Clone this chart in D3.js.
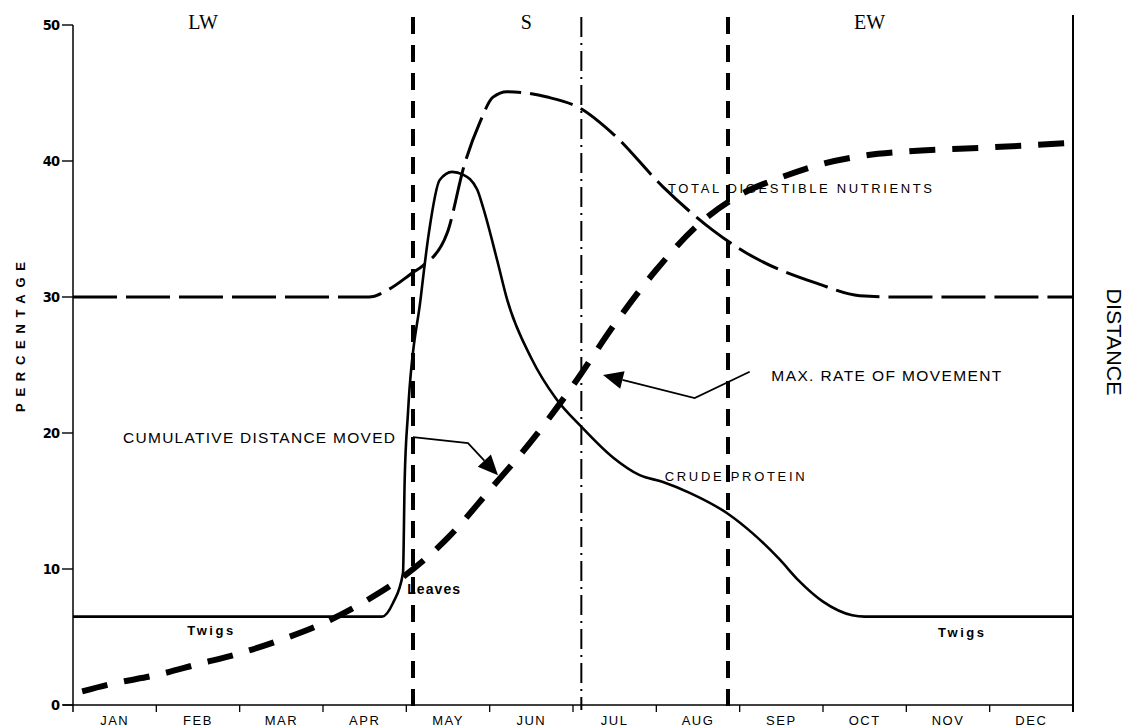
<!DOCTYPE html>
<html>
<head>
<meta charset="utf-8">
<script src="https://cdn.jsdelivr.net/npm/d3@7"></script>
<style>
  html, body { margin: 0; padding: 0; background: #fff; }
  svg { display: block; }
</style>
</head>
<body>
<div id="chart"></div>
<script>
// Seasonal forage quality vs. cumulative distance moved
const months = ["JAN", "FEB", "MAR", "APR", "MAY", "JUN", "JUL", "AUG", "SEP", "OCT", "NOV", "DEC"];
const percentTicks = [0, 10, 20, 30, 40, 50];

const seasonNames = ["LW", "S", "EW"];
const seasonCentres = [1.56, 5.44, 9.56];   // month position of each season label
const seasonBreaks = [4.08, 7.86];          // dashed season boundaries (month)
const maxRateMonth = 6.10;                  // dash-dot line

// total digestible nutrients (%)
const tdnMonth = [0, 3.55, 3.8, 4.08, 4.2, 4.49, 4.70, 4.88, 5.04, 5.21, 5.69, 6.08, 6.48, 7.08, 7.68, 8.09, 8.24, 8.93, 9.44, 9.9, 12];
const tdnValue = [30, 30, 30.6, 31.8, 32.3, 34.7, 39.8, 42.8, 44.7, 45.1, 44.7, 43.9, 42.0, 38.1, 34.9, 33.2, 32.7, 31.0, 30.1, 30, 30];

// crude protein (%)
const proteinMonth = [0, 3.71, 3.84, 3.96, 3.98, 4.02, 4.17, 4.27, 4.40, 4.55, 4.68, 4.85, 4.92, 5.09, 5.21, 5.5, 5.8, 6.11, 6.48, 6.80, 7.08, 7.40, 7.85, 8.16, 8.48, 8.70, 9.0, 9.35, 9.5, 12];
const proteinValue = [6.5, 6.5, 7.5, 9.7, 16.5, 21.5, 29.8, 34.7, 38.6, 39.2, 39.0, 37.9, 36.6, 32.7, 29.8, 25.5, 22.5, 20.4, 18.2, 16.9, 16.4, 15.6, 14.1, 12.6, 10.7, 9.2, 7.6, 6.6, 6.5, 6.5];

// cumulative distance moved (plotted on the percentage scale)
const distMonth = [0.11, 0.5, 1, 1.5, 2, 2.5, 3, 3.5, 4, 4.5, 5, 5.5, 6, 6.5, 7, 7.5, 8, 8.5, 9, 9.5, 10, 11, 11.9];
const distValue = [1.0, 1.6, 2.2, 3.0, 3.8, 4.8, 6.0, 7.6, 9.6, 12.3, 15.8, 19.4, 23.5, 28.0, 32.0, 35.3, 37.5, 38.8, 39.8, 40.4, 40.7, 41.0, 41.3];

const width = 1128, height = 728;
const x = d3.scaleLinear().domain([0, 12]).range([73, 1073]);
const y = d3.scaleLinear().domain([0, 50]).range([705, 25]);
const sans = "'Liberation Sans', Arial, sans-serif";

const svg = d3.select("#chart").append("svg")
    .attr("width", width)
    .attr("height", height)
    .style("background", "#fff");

const line = d3.line()
    .x(d => x(d[0]))
    .y(d => y(d[1]))
    .curve(d3.curveMonotoneX);

// axes frame
const frame = svg.append("g").attr("stroke", "#000").attr("fill", "none");
frame.append("line")
    .attr("x1", x(0)).attr("x2", x(0))
    .attr("y1", y(50)).attr("y2", y(0) + 7)
    .attr("stroke-width", 1.5);
frame.append("line")
    .attr("x1", x(0) - 10).attr("x2", x(12))
    .attr("y1", y(0)).attr("y2", y(0))
    .attr("stroke-width", 1.6);
frame.append("line")
    .attr("x1", x(12)).attr("x2", x(12))
    .attr("y1", 15).attr("y2", y(0) + 7)
    .attr("stroke-width", 2);

// left ticks
const yAxis = svg.append("g");
yAxis.selectAll("line")
    .data(percentTicks)
    .join("line")
    .attr("x1", x(0) - 11).attr("x2", x(0))
    .attr("y1", d => y(d)).attr("y2", d => y(d))
    .attr("stroke", "#000")
    .attr("stroke-width", 1.4);
yAxis.selectAll("text")
    .data(percentTicks)
    .join("text")
    .attr("x", x(0) - 14)
    .attr("y", d => y(d) + 5)
    .attr("text-anchor", "end")
    .style("font-family", `'DejaVu Sans Condensed', ${sans}`)
    .style("font-weight", "bold")
    .style("font-size", "14.5px")
    .style("letter-spacing", "-1px")
    .text(d => d);

// month ticks and labels
const xAxis = svg.append("g");
xAxis.selectAll("line")
    .data(d3.range(1, 13))
    .join("line")
    .attr("x1", d => x(d)).attr("x2", d => x(d))
    .attr("y1", y(0)).attr("y2", y(0) + 7)
    .attr("stroke", "#000")
    .attr("stroke-width", 1.3);
xAxis.selectAll("text")
    .data(months)
    .join("text")
    .attr("x", (d, i) => x(i + 0.5))
    .attr("y", y(0) + 20)
    .attr("text-anchor", "middle")
    .style("font-family", sans)
    .style("font-size", "13px")
    .style("letter-spacing", "1.5px")
    .text(d => d);

// axis titles
svg.append("text")
    .attr("transform", `translate(25,337) rotate(-90)`)
    .attr("text-anchor", "middle")
    .attr("textLength", 150)
    .attr("lengthAdjust", "spacing")
    .style("font-family", sans)
    .style("font-weight", "bold")
    .style("font-size", "13px")
    .text("PERCENTAGE");
svg.append("text")
    .attr("transform", `translate(1107,342) rotate(90)`)
    .attr("text-anchor", "middle")
    .attr("textLength", 107)
    .attr("lengthAdjust", "spacingAndGlyphs")
    .style("font-family", sans)
    .style("font-size", "20px")
    .text("DISTANCE");

// season boundaries
svg.append("g")
    .selectAll("line")
    .data(seasonBreaks)
    .join("line")
    .attr("x1", d => x(d)).attr("x2", d => x(d))
    .attr("y1", 17).attr("y2", y(0) + 8)
    .attr("stroke", "#000")
    .attr("stroke-width", 4)
    .attr("stroke-dasharray", "17,11");
svg.append("line")
    .attr("x1", x(maxRateMonth)).attr("x2", x(maxRateMonth))
    .attr("y1", 17).attr("y2", y(0) + 5)
    .attr("stroke", "#000")
    .attr("stroke-width", 2)
    .attr("stroke-dasharray", "20,6,2,6");

svg.append("g")
    .selectAll("text")
    .data(seasonNames)
    .join("text")
    .attr("x", (d, i) => x(seasonCentres[i]))
    .attr("y", 29)
    .attr("text-anchor", "middle")
    .style("font-family", "'Liberation Serif', 'Times New Roman', serif")
    .style("font-size", "20px")
    .text(d => d);

// curves
svg.append("path")
    .datum(d3.zip(tdnMonth, tdnValue))
    .attr("d", line)
    .attr("fill", "none")
    .attr("stroke", "#000")
    .attr("stroke-width", 3)
    .attr("stroke-dasharray", "44,9");

svg.append("path")
    .datum(d3.zip(proteinMonth, proteinValue))
    .attr("d", line)
    .attr("fill", "none")
    .attr("stroke", "#000")
    .attr("stroke-width", 2.6);

svg.append("path")
    .datum(d3.zip(distMonth, distValue))
    .attr("d", line)
    .attr("fill", "none")
    .attr("stroke", "#000")
    .attr("stroke-width", 6)
    .attr("stroke-dasharray", "26,17");

// curve labels
function label(txt, m, v, len, size, weight) {
    return svg.append("text")
        .attr("x", x(m))
        .attr("y", y(v) + size * 0.36)
        .attr("textLength", len)
        .attr("lengthAdjust", "spacing")
        .style("font-family", sans)
        .style("font-weight", weight || "normal")
        .style("font-size", `${size}px`)
        .text(txt);
}
label("TOTAL DIGESTIBLE NUTRIENTS", 7.14, 38.0, 264, 13);
label("CRUDE PROTEIN", 7.10, 16.8, 140, 13);
label("Twigs", 1.37, 5.5, 46, 13, "bold");
label("Twigs", 10.38, 5.35, 46, 13, "bold");
label("Leaves", 4.01, 8.5, 53, 14, "bold");
label("CUMULATIVE DISTANCE MOVED", 0.6, 19.7, 272, 15.5);
label("MAX. RATE OF MOVEMENT", 8.38, 24.26, 230, 15.5);

// annotation arrows
function arrow(pts) {
    const p = pts.map(d => [x(d[0]), y(d[1])]);
    const [ax, ay] = p[p.length - 2];
    const [tx, ty] = p[p.length - 1];
    const ang = Math.atan2(ty - ay, tx - ax);
    const len = 20, hw = 9;
    const bx = tx - len * Math.cos(ang), by = ty - len * Math.sin(ang);
    const px = -Math.sin(ang) * hw, py = Math.cos(ang) * hw;
    const shaft = p.slice(0, -1).concat([[bx, by]]);
    svg.append("path")
        .attr("d", d3.line()(shaft))
        .attr("fill", "none")
        .attr("stroke", "#000")
        .attr("stroke-width", 1.8);
    svg.append("path")
        .attr("d", d3.line()([[tx, ty], [bx + px, by + py], [bx - px, by - py]]) + "Z")
        .attr("fill", "#000");
}
arrow([[4.08, 19.7], [4.74, 19.26], [5.10, 16.9]]);
arrow([[8.12, 24.5], [7.46, 22.57], [6.36, 24.26]]);
</script>
</body>
</html>
